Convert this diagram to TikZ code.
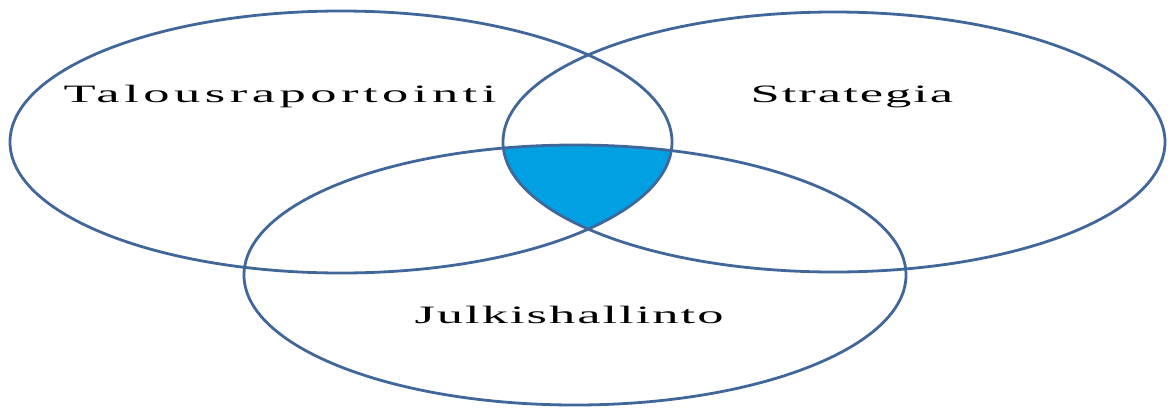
\documentclass[tikz,border=0pt]{standalone}
\usepackage{fontspec}
\usepackage{xcolor}
\usepackage{tikz}
\usetikzlibrary{positioning}
\newfontfamily\vennfont[FakeStretch=2.1,LetterSpace=8]{Liberation Serif}
\definecolor{VennLine}{HTML}{41669A}
\definecolor{VennCore}{HTML}{00A0E3}
\tikzset{
  setline/.style={draw=VennLine, line width=2.8pt},
  corefill/.style={fill=VennCore},
  setlabel/.style={anchor=base, font=\vennfont\fontsize{25}{30}\selectfont, text=black, inner sep=0pt}
}
\begin{document}
\begin{tikzpicture}[x=1pt, y=-1pt]
      \useasboundingbox (0,0) rectangle (1173,408);
      % common part of the three sets
      \begin{scope}
        \clip (341,142) ellipse [x radius=331, y radius=131];
        \clip (834,142) ellipse [x radius=331, y radius=130];
        \fill[corefill] (575,275) ellipse [x radius=331, y radius=130];
      \end{scope}
      \draw[setline] (341,142) ellipse [x radius=331, y radius=131];
      \draw[setline] (834,142) ellipse [x radius=331, y radius=130];
      \draw[setline] (575,275) ellipse [x radius=331, y radius=130];
      \node[setlabel] (talous) at (280,102) {\addfontfeature{LetterSpace=18}Talousraportointi};
      \node[setlabel] (strat) at (852,102) {Strategia};
      \node[setlabel] (julki) at (569,323) {Julkishallinto};
    \end{tikzpicture}
\end{document}
